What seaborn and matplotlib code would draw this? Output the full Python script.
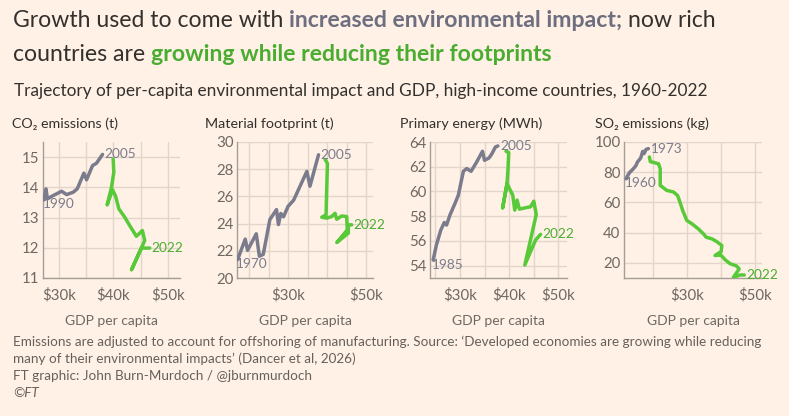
import matplotlib
matplotlib.use("Agg")
import matplotlib.pyplot as plt
import pandas as pd
import seaborn as sns

W, H = 789, 416

BG = "#fff1e5"
INK = "#33302e"
MUTED = "#66605c"
TICK = "#6e6863"
GREY = "#7a7b8c"
GREY_TXT = "#6d6e80"
GREEN = "#58c938"
GREEN_TXT = "#4aac30"
GRID = "#e2d5ca"
SPINE = "#a59d96"

FONT = ["Lato", "DejaVu Sans"]

# GDP per capita ($k) vs per-capita impact
# CO2 emissions (t)
co2_years = ["1990", "2005", "2022"]
co2_grey_gdp = [27.26, 27.62, 27.87, 28.96, 30.49, 31.4, 32.62, 33.35, 34.57, 35.06, 36.16, 36.89, 37.99]
co2_grey_val = [13.59, 13.95, 13.62, 13.73, 13.87, 13.76, 13.84, 13.95, 14.47, 14.25, 14.72, 14.8, 15.09]
co2_green_gdp = [39.94, 40.06, 39.63, 38.84, 39.82, 40.4, 40.98, 42.07, 42.99, 44.2, 45.3, 45.73, 43.3, 45.12, 46.65]
co2_green_val = [14.94, 14.5, 14.0, 13.42, 13.92, 13.7, 13.29, 13.01, 12.73, 12.38, 12.57, 12.24, 11.27, 11.99, 11.99]

# Material footprint (t)
mat_years = ["1970", "2005", "2022"]
mat_grey_gdp = [17.0, 18.97, 19.56, 21.8, 22.6, 23.6, 25.3, 27.0, 27.5, 28.1, 28.8, 30.0, 31.4, 34.8, 35.6, 37.8]
mat_grey_val = [21.35, 22.86, 22.03, 23.25, 21.6, 21.74, 24.3, 25.03, 23.93, 24.74, 24.5, 25.28, 25.72, 27.84, 26.75, 29.06]
mat_green_gdp = [39.5, 40.09, 39.9, 39.74, 38.63, 39.9, 41.2, 42.05, 42.48, 43.76, 45.04, 45.2, 42.5, 45.47, 45.47, 46.32]
mat_green_val = [28.71, 28.42, 26.47, 24.64, 24.47, 24.4, 24.52, 24.76, 24.32, 24.56, 24.52, 23.54, 22.61, 23.3, 23.91, 23.91]

# Primary energy (MWh)
nrg_years = ["1985", "2005", "2022"]
nrg_grey_gdp = [24.54, 25.2, 26.1, 26.8, 27.27, 27.95, 28.98, 29.66, 30.68, 31.37, 32.25, 33.4, 34.57, 34.98, 35.9, 36.5, 37.2, 37.7]
nrg_grey_val = [54.46, 55.67, 56.88, 57.49, 57.28, 58.09, 59.03, 59.7, 61.63, 61.85, 61.63, 62.39, 63.25, 62.52, 62.71, 63.06, 63.6, 63.68]
nrg_green_gdp = [39.35, 39.9, 39.76, 39.56, 38.67, 39.56, 40.72, 41.13, 41.6, 42.08, 43.3, 44.33, 45.0, 45.5, 43.17, 45.36, 46.38]
nrg_green_val = [63.25, 63.14, 61.85, 60.64, 58.68, 60.64, 59.7, 58.49, 59.3, 58.57, 58.68, 58.76, 59.21, 58.14, 54.05, 56.07, 56.53]

# SO2 emissions (kg)
so2_years = ["1960", "1973", "2022"]
so2_grey_gdp = [12.16, 13.14, 13.82, 14.31, 15.1, 15.49, 16.47, 17.06, 17.45, 18.04, 18.73]
so2_grey_val = [75.69, 79.67, 81.2, 82.3, 84.5, 86.7, 89.4, 93.8, 92.3, 95.1, 95.6]
so2_green_gdp = [19.02, 19.3, 20.2, 21.7, 22.2, 22.2, 24.1, 26.1, 27.3, 28.0, 28.8, 30.0, 31.5, 33.4,
                 34.9, 35.7, 37.4, 38.8, 40.3, 40.1, 38.3, 40.0, 41.3, 42.7, 44.6, 45.4, 43.7, 45.7, 46.9]
so2_green_val = [90.1, 87.0, 86.5, 85.6, 82.3, 71.3, 68.0, 66.9, 64.6, 60.2, 54.7, 48.1, 45.9, 42.5,
                 39.2, 37.0, 35.9, 34.1, 31.5, 27.5, 24.9, 25.2, 22.0, 19.5, 18.0, 16.0, 10.5, 12.0, 12.0]

sns.set_style("white")
plt.rcParams["font.family"] = FONT

fig = plt.figure(figsize=(W / 100, H / 100), dpi=100, facecolor=BG)
renderer = fig.canvas.get_renderer()


def px(x, y):
    return x / W, 1 - y / H


def text_width(s, size, weight="normal"):
    t = fig.text(0, 0, s, fontsize=size, fontweight=weight)
    w = t.get_window_extent(renderer).width
    t.remove()
    return w


def rich_line(x, y, parts, size):
    gap = text_width("x x", size) - text_width("xx", size)
    for s, color, weight in parts:
        t = fig.text(*px(x, y), s, color=color, fontsize=size, fontweight=weight, va="baseline")
        x += t.get_window_extent(renderer).width + gap


# titles
rich_line(13, 27, [("Growth used to come with", INK, "normal"),
                   ("increased environmental impact;", GREY_TXT, "bold"),
                   ("now rich", INK, "normal")], 16.6)
rich_line(13, 61, [("countries are", INK, "normal"),
                   ("growing while reducing their footprints", GREEN_TXT, "bold")], 16.6)
fig.text(*px(14, 96), "Trajectory of per-capita environmental impact and GDP, high-income countries, 1960-2022",
         color=INK, fontsize=12.4, va="baseline")

panels = [
    dict(title="CO₂ emissions (t)", tx=12, left=43, right=180, xlim=(27.07, 52.2), ylim=(11, 15.5),
         grey=(co2_grey_gdp, co2_grey_val), green=(co2_green_gdp, co2_green_val), years=co2_years,
         xticks=[30, 35, 40, 45, 50], xlabels=[r"\$30k", "", r"\$40k", "", r"\$50k"],
         yticks=[11, 12, 13, 14, 15]),
    dict(title="Material footprint (t)", tx=205, left=237, right=373, xlim=(16.85, 51.8), ylim=(20, 30),
         grey=(mat_grey_gdp, mat_grey_val), green=(mat_green_gdp, mat_green_val), years=mat_years,
         xticks=[20, 25, 30, 35, 40, 45, 50], xlabels=["", "", r"\$30k", "", "", "", r"\$50k"],
         yticks=[20, 22, 24, 26, 28, 30]),
    dict(title="Primary energy (MWh)", tx=400, left=430, right=567, xlim=(23.9, 51.75), ylim=(53, 64),
         grey=(nrg_grey_gdp, nrg_grey_val), green=(nrg_green_gdp, nrg_green_val), years=nrg_years,
         xticks=[25, 30, 35, 40, 45, 50], xlabels=["", r"\$30k", "", r"\$40k", "", r"\$50k"],
         yticks=[54, 56, 58, 60, 62, 64]),
    dict(title="SO₂ emissions (kg)", tx=595, left=624, right=762, xlim=(11.56, 52.1), ylim=(10, 100),
         grey=(so2_grey_gdp, so2_grey_val), green=(so2_green_gdp, so2_green_val), years=so2_years,
         xticks=[20, 30, 40, 50], xlabels=["", r"\$30k", "", r"\$50k"],
         yticks=[20, 40, 60, 80, 100]),
]

top, bottom = 142, 278
for p in panels:
    ax = fig.add_axes([p["left"] / W, 1 - bottom / H, (p["right"] - p["left"]) / W, (bottom - top) / H])
    ax.set_facecolor(BG)

    df_grey = pd.DataFrame({"gdp": p["grey"][0], "val": p["grey"][1]})
    df_green = pd.DataFrame({"gdp": p["green"][0], "val": p["green"][1]})
    sns.lineplot(data=df_grey, x="gdp", y="val", sort=False, estimator=None, color=GREY,
                 lw=2.5, ax=ax, solid_joinstyle="round", zorder=3)
    sns.lineplot(data=df_green, x="gdp", y="val", sort=False, estimator=None, color=GREEN,
                 lw=2.5, ax=ax, solid_joinstyle="round", zorder=3)

    y_start, y_mid, y_end = p["years"]
    ax.annotate(y_start, (df_grey.gdp.iloc[0], df_grey.val.iloc[0]), xytext=(-1, 1),
                textcoords="offset points", ha="left", va="top", color=GREY, fontsize=9.8)
    ax.annotate(y_mid, (df_grey.gdp.iloc[-1], df_grey.val.iloc[-1]), xytext=(1.5, 0),
                textcoords="offset points", ha="left", va="center", color=GREY, fontsize=9.8)
    ax.annotate(y_end, (df_green.gdp.iloc[-1], df_green.val.iloc[-1]), xytext=(1.5, 0),
                textcoords="offset points", ha="left", va="center", color=GREEN_TXT, fontsize=9.8)

    ax.set_xlim(*p["xlim"])
    ax.set_ylim(*p["ylim"])
    ax.set_xticks(p["xticks"])
    ax.set_xticklabels(p["xlabels"])
    ax.set_yticks(p["yticks"])
    ax.grid(True, color=GRID, lw=1)
    ax.set_axisbelow(True)
    for side in ["top", "right"]:
        ax.spines[side].set_visible(False)
    for side in ["left", "bottom"]:
        ax.spines[side].set_color(SPINE)
        ax.spines[side].set_linewidth(1)
    ax.tick_params(axis="x", length=3.5, width=1, color=GRID, pad=4, labelsize=10.8, labelcolor=TICK)
    ax.tick_params(axis="y", length=0, pad=2.5, labelsize=10.8, labelcolor=TICK)
    ax.set_xlabel("GDP per capita", color=TICK, fontsize=10)
    ax.xaxis.set_label_coords(0.5, -0.27)
    ax.xaxis.label.set_va("top")
    ax.set_ylabel("")

    fig.text(*px(p["tx"], 128), p["title"], color=INK, fontsize=10.3, va="baseline")

# footer
notes = [
    "Emissions are adjusted to account for offshoring of manufacturing. Source: \u2018Developed economies are growing while reducing",
    "many of their environmental impacts\u2019 (Dancer et al, 2026)",
    "FT graphic: John Burn-Murdoch / @jburnmurdoch",
]
for i, line in enumerate(notes):
    fig.text(*px(13, 346 + 17 * i), line, color=MUTED, fontsize=9.7, va="baseline")
fig.text(*px(13, 397), "©FT", color=MUTED, fontsize=9.7, va="baseline", style="italic")

fig.savefig("out.png", dpi=100, facecolor=BG)
